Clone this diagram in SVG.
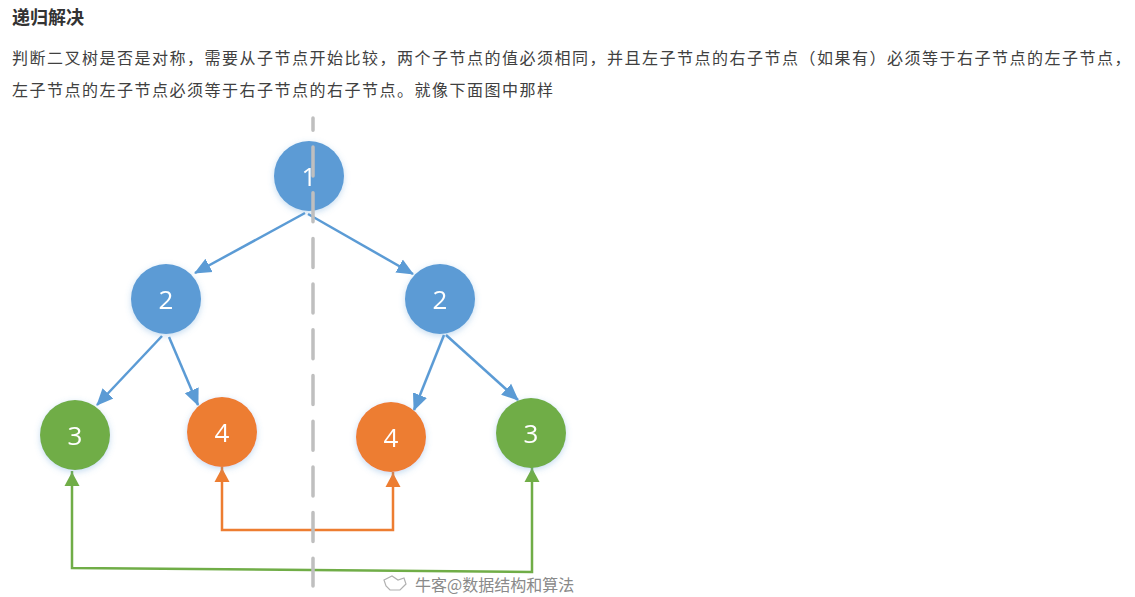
<svg xmlns="http://www.w3.org/2000/svg" width="1135" height="597" viewBox="0 0 1135 597">
<style>
.title{font-family:"Liberation Sans","Noto Sans CJK SC",sans-serif;font-size:18px;font-weight:bold;fill:#333333}
.para{font-family:"Liberation Sans","Noto Sans CJK SC",sans-serif;font-size:16px;fill:#404040;letter-spacing:1.5px}
.num{font-family:"Open Sans","Liberation Sans",sans-serif;font-size:26px;fill:#ffffff;text-anchor:middle;dominant-baseline:central}
.blue{fill:#5b9bd5}
.orange{fill:#ed7d31}
.green{fill:#70ad47}
.edge{fill:none;stroke-width:2.5}
.eb{stroke:#5b9bd5;marker-end:url(#ab)}
.eo{stroke:#ed7d31;marker-start:url(#ao);marker-end:url(#ao)}
.eg{stroke:#70ad47;marker-start:url(#ag);marker-end:url(#ag)}
.wm{font-family:"Noto Sans CJK SC","Liberation Sans",sans-serif;font-size:16px;fill:#8a8a8a}
</style>
<defs>
<filter id="glow" x="-40%" y="-40%" width="180%" height="180%">
<feDropShadow dx="0" dy="2" stdDeviation="3" flood-color="#5b9bd5" flood-opacity="0.35"/>
</filter>
<marker id="ab" markerUnits="userSpaceOnUse" viewBox="0 0 17 17" markerWidth="17" markerHeight="17" refX="16" refY="8.5" orient="auto">
<path d="M0,1 L17,8.5 L0,16 Z" fill="#5b9bd5"/>
</marker>
<marker id="ao" markerUnits="userSpaceOnUse" viewBox="0 0 16 16" markerWidth="16" markerHeight="16" refX="15" refY="8" orient="auto-start-reverse">
<path d="M0,0.5 L14,8 L0,15.5 Z" fill="#ed7d31"/>
</marker>
<marker id="ag" markerUnits="userSpaceOnUse" viewBox="0 0 16 16" markerWidth="16" markerHeight="16" refX="15" refY="8" orient="auto-start-reverse">
<path d="M0,0.5 L14,8 L0,15.5 Z" fill="#70ad47"/>
</marker>
</defs>
<rect width="1135" height="597" fill="#ffffff"/>
<text class="title" x="12" y="24">递归解决</text>
<text class="para" x="12" y="64">判断二叉树是否是对称，需要从子节点开始比较，两个子节点的值必须相同，并且左子节点的右子节点（如果有）必须等于右子节点的左子节点，</text>
<text class="para" x="12" y="96">左子节点的左子节点必须等于右子节点的右子节点。就像下面图中那样</text>

<g id="connectors">
<path class="edge eb" d="M305,213 L195,273"/>
<path class="edge eb" d="M308,214 L413,274"/>
<path class="edge eb" d="M162,336 L97,405"/>
<path class="edge eb" d="M169,337 L198,405"/>
<path class="edge eb" d="M444,335 L414,410"/>
<path class="edge eb" d="M446,335 L518,400"/>
<path class="edge eo" d="M222,467 L222,530 L393,530 L393,472"/>
<path class="edge eg" d="M72,471 L72,568 L532,572 L532,467"/>
</g>

<g id="n1" filter="url(#glow)"><circle class="blue" cx="309" cy="176" r="35"/><text class="num" x="309" y="176">1</text></g>
<g id="n2l" filter="url(#glow)"><circle class="blue" cx="166" cy="299" r="35"/><text class="num" x="166" y="299">2</text></g>
<g id="n2r" filter="url(#glow)"><circle class="blue" cx="440" cy="299" r="35"/><text class="num" x="440" y="299">2</text></g>
<g id="n3l" filter="url(#glow)"><circle class="green" cx="75" cy="435" r="35"/><text class="num" x="75" y="435">3</text></g>
<g id="n4l" filter="url(#glow)"><circle class="orange" cx="222" cy="432" r="35"/><text class="num" x="222" y="432">4</text></g>
<g id="n4r" filter="url(#glow)"><circle class="orange" cx="391" cy="437" r="35"/><text class="num" x="391" y="437">4</text></g>
<g id="n3r" filter="url(#glow)"><circle class="green" cx="531" cy="433" r="35"/><text class="num" x="531" y="433">3</text></g>

<line x1="313" y1="118" x2="313" y2="586" stroke="#bfbfbf" stroke-width="3.5" stroke-linecap="round" stroke-dasharray="29 16.7" stroke-dashoffset="16.7"/>

<g id="watermark">
<path d="M384,580 L392,576 L398,580 L404,578 L406,584 L400,590 L390,590 L386,586 Z" fill="none" stroke="#b0b0b0" stroke-width="1.2"/>
<text class="wm" x="415" y="591">牛客@数据结构和算法</text>
</g>
</svg>
